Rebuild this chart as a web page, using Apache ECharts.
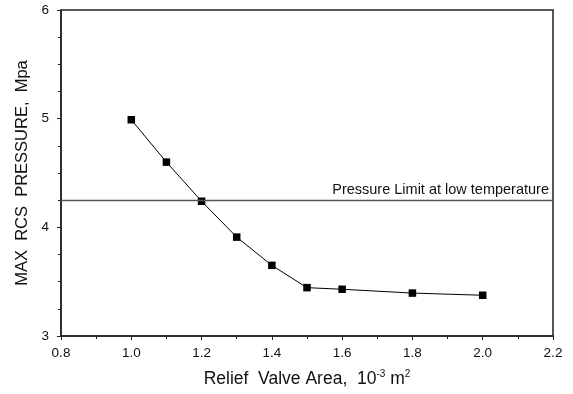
<!DOCTYPE html>
<html>
<head>
<meta charset="utf-8">
<script src="https://cdn.jsdelivr.net/npm/echarts@6/dist/echarts.min.js"></script>
<style>
html, body { margin: 0; padding: 0; background: #fff; }
#chart { width: 573px; height: 394px; }
</style>
</head>
<body>
<div id="chart"></div>
<script>
// relief valve area (10^-3 m^2) vs max RCS pressure (MPa)
const area = [1.0, 1.1, 1.2, 1.3, 1.4, 1.5, 1.6, 1.8, 2.0];
const pressure = [4.99, 4.60, 4.24, 3.91, 3.65, 3.445, 3.43, 3.395, 3.375];
const pressureLimit = 4.25;
const limitLabel = 'Pressure Limit at low temperature';

const font = 'Liberation Sans, Arial, sans-serif';
const chart = echarts.init(document.getElementById('chart'), null, { renderer: 'canvas' });

const option = {
    animation: false,
    backgroundColor: '#fff',
    grid: {
        left: 61, right: 20, top: 10, bottom: 58,
        show: true,
        borderColor: '#222',
        borderWidth: 1.5
    },
    xAxis: {
        type: 'value',
        min: 0.8, max: 2.2, interval: 0.2,
        name: '{a|Relief  Valve Area,  10}{sup|-3}{a| m}{sup|2}',
        nameLocation: 'middle',
        nameGap: 33,
        nameTextStyle: {
            rich: {
                a: { fontFamily: font, fontSize: 17.5, color: '#111' },
                sup: { fontFamily: font, fontSize: 10, color: '#111', padding: [0, 0, 11, 0] }
            }
        },
        axisLine: { show: true, lineStyle: { color: '#222', width: 1.5 } },
        axisTick: { show: true, length: 4, inside: false, lineStyle: { color: '#222' } },
        minorTick: { show: true, splitNumber: 2, length: 3, lineStyle: { color: '#222' } },
        splitLine: { show: false },
        axisLabel: {
            fontFamily: font, fontSize: 13.5, color: '#111', margin: 10,
            formatter: v => v.toFixed(1)
        }
    },
    yAxis: {
        type: 'value',
        min: 3, max: 6, interval: 1,
        name: 'MAX  RCS  PRESSURE,  Mpa',
        nameLocation: 'middle',
        nameGap: 29,
        nameTextStyle: { fontFamily: font, fontSize: 16.5, color: '#111' },
        axisLine: { show: true, lineStyle: { color: '#222', width: 1.5 } },
        axisTick: { show: true, length: 4, lineStyle: { color: '#222' } },
        minorTick: { show: true, splitNumber: 4, length: 3, lineStyle: { color: '#222' } },
        splitLine: { show: false },
        axisLabel: { fontFamily: font, fontSize: 13.5, color: '#111', margin: 12 }
    },
    series: [{
        type: 'line',
        data: area.map((a, i) => [a, pressure[i]]),
        symbol: 'rect',
        symbolSize: 7.5,
        itemStyle: { color: '#000' },
        lineStyle: { color: '#000', width: 1 },
        markLine: {
            silent: true,
            symbol: 'none',
            lineStyle: { color: '#555', width: 1.3, type: 'solid' },
            label: {
                position: 'insideEndTop',
                formatter: limitLabel,
                fontFamily: font, fontSize: 14.5, color: '#111',
                distance: [4, 3]
            },
            data: [{ yAxis: pressureLimit }]
        }
    }]
};
chart.setOption(option);
</script>
</body>
</html>
